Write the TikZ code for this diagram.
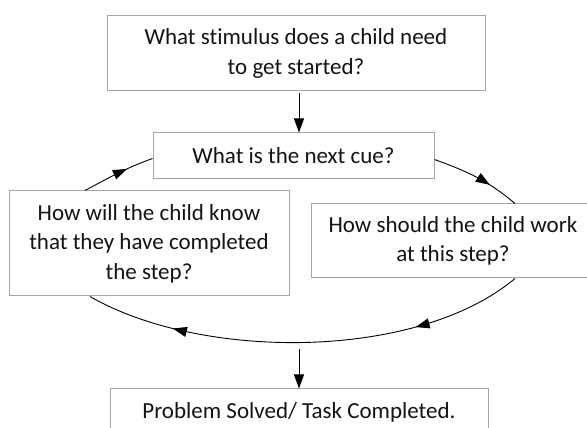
\documentclass[tikz,border=0pt]{standalone}
\usepackage{fontspec}
\setmainfont[Ligatures=NoCommon]{Carlito}
\usetikzlibrary{arrows.meta,decorations.markings}
\definecolor{boxgray}{RGB}{165,165,165}
\definecolor{inkgray}{RGB}{20,20,20}
\begin{document}
\begin{tikzpicture}[x=1pt,y=1pt,
  box/.style={draw=boxgray, line width=1pt, inner sep=0pt, align=center,
    font=\fontsize{23}{29.5}\selectfont, text=inkgray},
  arr/.style={draw=black, line width=0.9pt, -{Triangle[length=14pt,width=10pt]}},
  loopline/.style={draw=black, line width=0.9pt},
  tipat/.style={postaction={decorate, decoration={markings,
    mark=at position #1 with {\arrow{Triangle[length=14pt,width=10pt]}}}}}]
\useasboundingbox (0,0) rectangle (587,428);
\clip (0,0) rectangle (587,428);
\fill[white] (0,0) rectangle (587,428);

\node[box, minimum width=378pt, minimum height=75pt] (start) at (296,374.5)
  {What stimulus does a child need\\to get started?};
\node[box, minimum width=281pt, minimum height=46pt] (cue) at (293.5,272)
  {What is the next cue?};
\node[box, minimum width=280pt, minimum height=105pt] (know) at (149,184.5)
  {How will the child know\\that they have completed\\the step?};
\node[box, minimum width=284pt, minimum height=74pt] (work) at (453,187)
  {How should the child work\\at this step?};
\node[box, minimum width=378pt, minimum height=46pt] (done) at (299,16)
  {Problem Solved/ Task Completed.};

\coordinate (ax) at (299,0);
\coordinate (kx) at (85,0);
\coordinate (kx2) at (90,0);
\coordinate (wx) at (515,0);
\coordinate (loopout) at (299,79);

\draw[arr, shorten <=2pt] (start.south -| ax) -- (cue.north -| ax);
\draw[loopline, tipat=0.63] (know.north -| kx) to[out=28,in=200] ([yshift=-2.5pt]cue.west);
\draw[loopline, tipat=0.66] ([yshift=-3.5pt]cue.east) to[out=-20,in=140] (work.north -| wx);
\draw[loopline, tipat=0.25, tipat=0.8] (work.south -| wx) to[out=220,in=330,looseness=0.77] (know.south -| kx2);
\draw[arr] (loopout) -- (done.north -| ax);
\end{tikzpicture}
\end{document}
